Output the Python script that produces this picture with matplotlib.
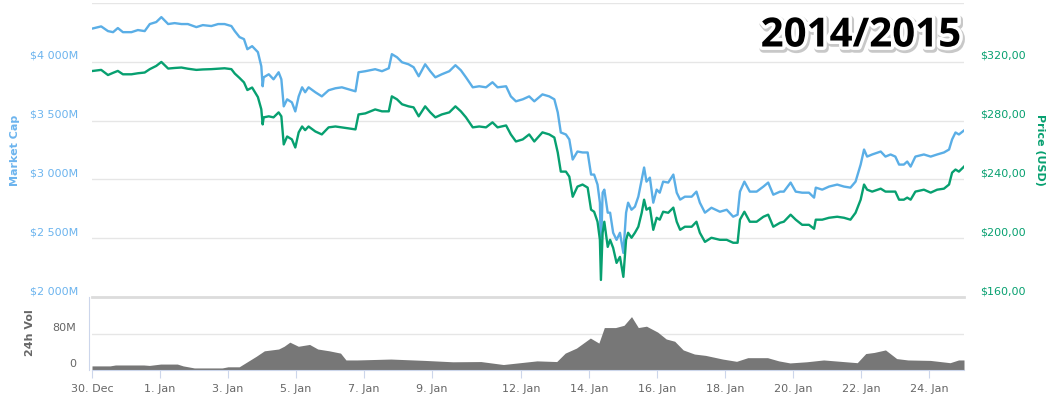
import matplotlib
matplotlib.use("Agg")
import matplotlib.pyplot as plt
import matplotlib.patheffects as pe

# x = chart position in days from 30. Dec (ordinal axis, gaps collapsed)
days = [0.03, 0.27, 0.47, 0.62, 0.76, 0.91, 1.16, 1.35, 1.55, 1.70, 1.89, 2.04, 2.24, 2.43, 2.63,
        2.82, 3.07, 3.26, 3.51, 3.71, 3.90, 4.10, 4.20, 4.34, 4.47, 4.57, 4.71, 4.88, 4.98, 5.02,
        5.05, 5.20, 5.34, 5.49, 5.57, 5.64, 5.74, 5.88, 5.98, 6.08, 6.18, 6.27, 6.37, 6.57, 6.76,
        6.96, 7.16, 7.35, 7.55, 7.75, 7.84, 8.04, 8.33, 8.53, 8.73, 8.82, 8.97, 9.12, 9.31, 9.46,
        9.61, 9.80, 9.95, 10.10, 10.29,
        10.51, 10.69, 10.85, 11.0, 11.2, 11.39, 11.59, 11.78, 11.93, 12.18, 12.32, 12.47, 12.67,
        12.86, 13.01, 13.25, 13.45, 13.60, 13.70, 13.79, 13.94, 14.04, 14.14, 14.28, 14.43, 14.58,
        14.68, 14.77, 14.87, 14.94, 14.97, 15.02, 15.07, 15.17,
        15.24, 15.33, 15.43, 15.53, 15.63, 15.71, 15.77, 15.87, 15.97, 16.07, 16.17, 16.24, 16.31,
        16.41, 16.51, 16.61, 16.70, 16.80, 16.95, 17.10, 17.20, 17.30, 17.44, 17.64, 17.78, 17.88,
        18.03, 18.22, 18.47, 18.67, 18.86, 18.99, 19.06, 19.19, 19.35, 19.55, 19.75, 19.89, 20.04,
        20.24,
        20.35, 20.55, 20.70, 20.89, 21.09, 21.24, 21.29, 21.48, 21.68, 21.92, 22.12, 22.31, 22.46,
        22.61, 22.71, 22.80, 22.95, 23.20, 23.34, 23.49, 23.63, 23.74, 23.88, 23.98, 24.08, 24.22,
        24.47, 24.67, 24.86, 25.06, 25.21, 25.30, 25.40, 25.50, 25.65]

# market cap in $M
market_cap = [4284, 4301, 4261, 4252, 4287, 4252, 4252, 4270, 4261, 4321, 4338, 4380, 4321, 4329, 4321,
              4321, 4295, 4312, 4304, 4321, 4321, 4304, 4261, 4210, 4193, 4107, 4133, 4082, 3962, 3792,
              3868, 3894, 3851, 3911, 3851, 3621, 3681, 3655, 3578, 3706, 3783, 3741, 3783, 3741, 3706,
              3758, 3775, 3783, 3766, 3749, 3911, 3920, 3937, 3920, 3945, 4065, 4039, 3996, 3979, 3954,
              3877, 3979, 3920, 3868, 3894,
              3920, 3971, 3928, 3868, 3783, 3792, 3783, 3826, 3783, 3792, 3706, 3664, 3681,
              3706, 3664, 3723, 3706, 3681, 3570, 3399, 3382, 3340, 3169, 3237, 3229, 3229,
              3041, 3041, 2956, 2802, 2360, 2887, 2913, 2717,
              2717, 2546, 2486, 2546, 2375, 2717, 2802, 2742, 2768, 2853, 2998, 3101, 2981,
              3015, 2802, 2913, 2887, 2981, 2973, 3041, 2887, 2828, 2853, 2853, 2896, 2802,
              2717, 2759, 2725, 2742, 2683, 2700, 2896, 2981, 2896, 2896, 2939, 2973, 2870,
              2896,
              2896, 2973, 2896, 2887, 2887, 2845, 2930, 2913, 2939, 2956, 2939, 2930, 2981,
              3126, 3254, 3194, 3212, 3237, 3194, 3212, 3194, 3126, 3126, 3152, 3109, 3194,
              3212, 3194, 3212, 3229, 3254, 3340, 3399, 3382, 3416]

# price in USD
price = [313.8, 314.5, 311.0, 312.5, 313.8, 311.5, 311.5, 312.2, 312.7, 315.0, 317.2, 319.9, 315.4, 315.8, 316.1,
         315.3, 314.5, 314.8, 315.0, 315.3, 315.6, 315.0, 312.0, 309.0, 306.0, 300.8, 302.5, 296.0, 287.7, 277.4,
         282.2, 282.9, 282.2, 285.6, 282.9, 263.8, 269.2, 267.2, 261.7, 272.0, 276.0, 273.5, 276.0, 272.6, 270.6,
         275.4, 276.0, 275.4, 274.7, 274.0, 284.2, 284.9, 287.6, 286.3, 286.3, 296.5, 294.5, 291.1, 289.7, 289.0,
         282.9, 289.7, 285.6, 282.2, 284.2,
         285.6, 289.7, 286.3, 282.2, 275.4, 276.0, 275.4, 278.8, 275.4, 276.7, 270.6, 265.8, 267.2,
         270.6, 265.8, 272.0, 270.6, 268.5, 258.3, 245.3, 245.3, 241.9, 228.2, 235.1, 236.5, 234.4,
         219.4, 218.0, 211.2, 198.9, 171.6, 203.7, 211.2, 194.1,
         198.9, 193.4, 183.2, 187.3, 173.7, 198.9, 203.7, 200.3, 203.7, 207.8, 217.3, 226.2, 219.4,
         220.8, 205.7, 213.9, 212.6, 218.0, 217.3, 220.8, 211.2, 205.7, 207.8, 207.8, 211.2, 203.7,
         197.5, 200.3, 198.9, 198.9, 196.9, 196.9, 212.6, 218.0, 211.2, 211.2, 214.6, 216.0, 207.8,
         210.5,
         211.2, 216.0, 212.6, 209.1, 209.1, 206.4, 212.6, 212.6, 213.9, 214.6, 213.9, 212.6, 217.3,
         226.2, 236.5, 233.0, 231.7, 233.7, 231.7, 231.7, 231.7, 226.2, 226.2, 227.6, 226.2, 231.7,
         233.0, 231.0, 233.0, 233.7, 236.5, 244.6, 246.7, 245.3, 248.7]

vol_days = [0, 0.53, 0.69, 1.52, 1.69, 2.02, 2.51, 2.68, 3.01, 3.83, 4.0, 4.33, 4.58, 4.83, 5.07,
            5.49, 5.65, 5.82, 6.07, 6.40, 6.64, 6.98, 7.31, 7.47, 7.80, 8.79, 9.79, 10.61, 11.44,
            12.10, 13.09, 13.67, 13.92, 14.25, 14.66, 14.91, 15.07, 15.40, 15.65, 15.87, 16.07,
            16.31, 16.64, 16.89, 17.14, 17.39, 17.72, 18.05, 18.55, 18.96, 19.29, 19.87, 20.20,
            20.53, 21.02, 21.52, 22.18, 22.51, 22.76, 23.01, 23.34, 23.67, 24.0, 24.66, 25.24,
            25.49, 25.65]
volume = [9, 9, 11, 11, 10, 13, 13, 9, 4.5, 4.5, 7, 7, 18.5, 30, 42,
          46, 52, 61, 52, 56, 46, 42, 37, 22, 22, 24, 21, 18, 18.5,
          12, 20, 18.5, 37, 48, 70, 59, 93, 93, 98, 117, 93,
          96, 83, 68, 63, 44, 35, 32, 24, 19, 27, 27, 20,
          15.5, 18, 22, 18, 16, 36, 38.5, 44, 25, 22, 21, 16,
          22, 22]

tick_pos = [0, 2, 4, 6, 8, 10, 12.62, 14.62, 16.62, 18.62, 20.62, 22.62, 24.62]
tick_labels = ["30. Dec", "1. Jan", "3. Jan", "5. Jan", "7. Jan", "9. Jan", "12. Jan",
               "14. Jan", "16. Jan", "18. Jan", "20. Jan", "22. Jan", "24. Jan"]
cap_ticks = [2000, 2500, 3000, 3500, 4000]
cap_labels = ["$2 000M", "$2 500M", "$3 000M", "$3 500M", "$4 000M"]
price_ticks = [160, 200, 240, 280, 320]
price_labels = ["$160,00", "$200,00", "$240,00", "$280,00", "$320,00"]
vol_ticks = [0, 80]
vol_labels = ["0", "80M"]

BLUE = "#5aaee6"
GREEN = "#07a070"
GRID = "#e6e6e6"
AXIS = "#ccd6eb"

W, H = 1051, 398
fig = plt.figure(figsize=(W / 100, H / 100), dpi=100)
x0, x1 = 92, 964

ax = fig.add_axes([x0 / W, (H - 297) / H, (x1 - x0) / W, 294 / H])
axp = ax.twinx()
axv = fig.add_axes([x0 / W, (H - 370) / H, (x1 - x0) / W, 73 / H])

ax.set_xlim(0, 25.65)
axv.set_xlim(0, 25.65)
ax.set_ylim(2000, 4500)
axp.set_ylim(160, 360)
axv.set_ylim(0, 160)

for a in (ax, axp, axv):
    for s in a.spines.values():
        s.set_visible(False)
    a.set_yticks([])

for v in [2000, 2500, 3000, 3500, 4000, 4500]:
    ax.axhline(v, color=GRID, lw=1, zorder=0)
axv.axhline(80, color=GRID, lw=1, zorder=0)
axv.axhline(160, color="#dcdcdc", lw=2, zorder=0, clip_on=False)

ax.plot(days, market_cap, color=BLUE, lw=1.7, zorder=3)
axp.plot(days, price, color=GREEN, lw=1.7, zorder=3)
axv.fill_between(vol_days, volume, color="#777777", lw=0)

ax.set_xticks([])
axv.spines["bottom"].set_visible(True)
axv.spines["bottom"].set_color(AXIS)
axv.spines["left"].set_visible(True)
axv.spines["left"].set_color(AXIS)
axv.spines["left"].set_position(("outward", 2))
axv.set_xticks(tick_pos)
axv.set_xticklabels(tick_labels)
axv.tick_params(axis="x", direction="out", length=6, color=AXIS, labelcolor="#666666",
                labelsize=8, pad=4)

for v, lab in zip(cap_ticks, cap_labels):
    ax.annotate(lab, xy=(0, v), xycoords=("axes fraction", "data"), xytext=(-10, 4.3),
                textcoords="offset points", ha="right", va="center", fontsize=8, color="#6cb4ee")
for v, lab in zip(price_ticks, price_labels):
    axp.annotate(lab, xy=(1, v), xycoords=("axes fraction", "data"), xytext=(11.5, 4.3),
                 textcoords="offset points", ha="left", va="center", fontsize=8, color=GREEN)
for v, lab in zip(vol_ticks, vol_labels):
    axv.annotate(lab, xy=(0, v), xycoords=("axes fraction", "data"), xytext=(-11.5, 4.3),
                 textcoords="offset points", ha="right", va="center", fontsize=8, color="#666666")

fig.text(15 / W, 1 - 150 / H, "Market Cap", rotation=90, ha="center", va="center",
         fontsize=8, fontweight="bold", color="#6cb4ee")
fig.text(1040 / W, 1 - 150 / H, "Price (USD)", rotation=270, ha="center", va="center",
         fontsize=8, fontweight="bold", color=GREEN)
fig.text(30 / W, 1 - 333 / H, "24h Vol", rotation=90, ha="center", va="center",
         fontsize=8, fontweight="bold", color="#666666")

fig.text(961 / W, 1 - 36 / H, "2014/2015", ha="right", va="center", fontsize=29,
         fontweight="bold", family="Open Sans", color="black",
         path_effects=[pe.Stroke(linewidth=6, foreground="#c8c8c8", offset=(1, -1.5)),
                       pe.Stroke(linewidth=5, foreground="white"), pe.Normal()])

fig.savefig("out.png", dpi=100)
